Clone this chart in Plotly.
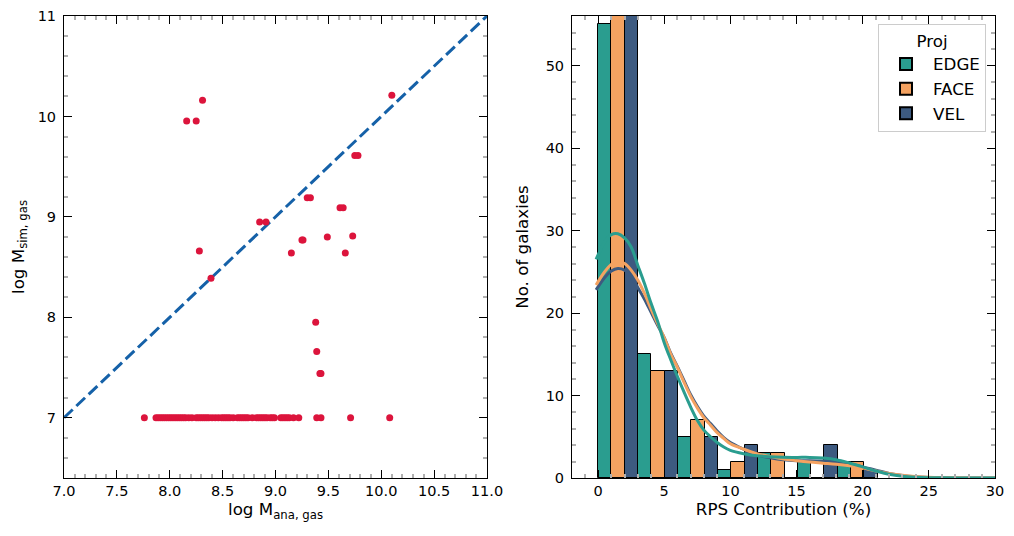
import plotly.graph_objects as go

# ---- left panel: analytic vs simulated gas mass ----
m_ana = [8.16, 8.25, 8.31, 10.10, 9.75, 9.78, 9.30, 9.33, 9.61, 9.64,
         8.85, 8.91, 9.49, 9.73, 9.25, 9.26, 9.15, 9.66, 8.28, 8.39,
         9.38, 9.39, 9.42, 9.43,
         7.76, 7.87, 7.89, 7.91, 7.93, 7.95, 7.97, 7.99, 8.01, 8.03,
         8.05, 8.07, 8.09, 8.11, 8.13, 8.15, 8.18, 8.21, 8.25, 8.27,
         8.29, 8.31, 8.33, 8.35, 8.37, 8.40, 8.43, 8.46, 8.49, 8.51,
         8.53, 8.55, 8.57, 8.60, 8.64, 8.66, 8.68, 8.70, 8.72, 8.74,
         8.78, 8.82, 8.84, 8.86, 8.88, 8.90, 8.92, 8.95, 8.97, 8.99,
         9.05, 9.07, 9.09, 9.11, 9.13, 9.17, 9.22, 9.39, 9.43, 9.71, 10.08]
m_sim = [9.955, 9.955, 10.16, 10.21, 9.61, 9.61, 9.19, 9.19, 9.09, 9.09,
         8.95, 8.95, 8.80, 8.81, 8.77, 8.77, 8.64, 8.64, 8.66, 8.39,
         7.95, 7.66, 7.44, 7.44] + [7.0] * 61
one_to_one = [7.0, 11.0]

# ---- right panel: RPS contribution histogram ----
bin_edges = [0, 3.02, 6.04, 9.06, 12.08, 15.10, 18.12, 21.14]
projections = ["EDGE", "FACE", "VEL"]
counts = {
    "EDGE": [55, 15, 5, 1, 3, 2, 2],
    "FACE": [56, 13, 7, 2, 3, 0, 2],
    "VEL":  [56, 13, 5, 4, 0, 4, 1],
}
colors = {"EDGE": "#2a9d8f", "FACE": "#f4a261", "VEL": "#3d5a80"}

kde_x = [-0.15, 0.5, 1.0, 1.5, 2.0, 2.5, 3.0, 3.5, 4.0, 4.5, 5.0, 5.5, 6.0,
         6.5, 7.0, 7.5, 8.0, 8.5, 9.0, 9.5, 10, 11, 12, 13, 14, 15, 16, 17,
         18, 19, 20, 21, 22, 23, 24, 25, 26, 28, 30]
kde_y = {
    "EDGE": [26.5, 28.6, 29.5, 29.6, 29.1, 28.0, 25.8, 23.6, 21.2, 19.0, 16.4,
             14.3, 12.3, 10.4, 8.6, 7.0, 5.8, 5.0, 4.3, 3.75, 3.35, 2.95, 2.7,
             2.58, 2.52, 2.5, 2.5, 2.42, 2.22, 1.82, 1.35, 0.85, 0.45, 0.22,
             0.1, 0.04, 0.02, 0.0, 0.0],
    "FACE": [23.4, 25.0, 25.9, 26.3, 26.0, 25.2, 24.0, 22.4, 20.5, 18.7, 17.0,
             15.0, 13.4, 11.6, 9.9, 8.5, 7.3, 6.4, 5.5, 4.8, 4.15, 3.5, 2.95,
             2.6, 2.3, 2.1, 1.93, 1.8, 1.67, 1.48, 1.2, 0.85, 0.55, 0.32,
             0.17, 0.08, 0.04, 0.01, 0.0],
    "VEL":  [22.8, 24.3, 25.1, 25.4, 25.2, 24.4, 23.1, 21.7, 20.1, 18.5, 17.0,
             15.1, 13.5, 11.8, 10.1, 8.7, 7.5, 6.6, 5.7, 4.9, 4.3, 3.5, 2.8,
             2.45, 2.2, 2.1, 2.1, 2.05, 1.9, 1.7, 1.35, 0.95, 0.55, 0.3,
             0.15, 0.07, 0.03, 0.01, 0.0],
}

fig = go.Figure()

fig.add_trace(go.Scatter(
    x=one_to_one, y=one_to_one, mode="lines", showlegend=False,
    line=dict(color="#1561a8", width=3, dash="12px,5px"),
    xaxis="x", yaxis="y"))
fig.add_trace(go.Scatter(
    x=m_ana, y=m_sim, mode="markers", showlegend=False,
    marker=dict(color="#dc143c", size=7),
    xaxis="x", yaxis="y"))

n = len(projections)
for k, p in enumerate(projections):
    xs, ws = [], []
    for i in range(len(bin_edges) - 1):
        w = (bin_edges[i + 1] - bin_edges[i]) / n
        xs.append(bin_edges[i] + (k + 0.5) * w)
        ws.append(w)
    fig.add_trace(go.Bar(
        x=xs, y=counts[p], width=ws, name=p,
        marker=dict(color=colors[p], line=dict(color="black", width=1)),
        xaxis="x2", yaxis="y2"))

for p in ["VEL", "FACE", "EDGE"]:
    fig.add_trace(go.Scatter(
        x=kde_x, y=kde_y[p], mode="lines", showlegend=False,
        line=dict(color=colors[p], width=3, shape="spline"),
        xaxis="x2", yaxis="y2"))

tick_font = dict(family="DejaVu Sans", size=14.5, color="black")
label_font = dict(family="DejaVu Sans", size=16.7, color="black")
common = dict(showline=True, linecolor="black", linewidth=1, mirror="allticks",
              ticks="inside", ticklen=8, tickwidth=1, tickcolor="black",
              showgrid=False, zeroline=False,
              automargin=False, tickfont=tick_font)

def minor(d):
    return dict(dtick=d, ticks="inside", ticklen=4, tickwidth=1.5,
                tickcolor="#b0b0b0", showgrid=False)

# the page body adds an 8px offset, so positions are shifted back by 8px
fig.update_layout(
    width=1014, height=536,
    margin=dict(l=0, r=0, t=8, b=66),
    plot_bgcolor="white", paper_bgcolor="white",
    font=label_font, barmode="overlay", bargap=0,
    showlegend=True,
    xaxis=dict(domain=[56 / 1014, 479 / 1014], range=[7, 11], dtick=0.5,
               tickformat=".1f", minor=minor(0.1), ticklabelstandoff=0,
               title=dict(text="log M<sub>ana, gas</sub>", font=label_font, standoff=4),
               **common),
    yaxis=dict(range=[6.4, 11], tick0=7, dtick=1, minor=minor(0.2),
               ticklabelstandoff=4,
               title=dict(text="log M<sub>sim, gas</sub>", font=label_font, standoff=12),
               **common),
    xaxis2=dict(domain=[564 / 1014, 987 / 1014], range=[-1.97, 30], dtick=5,
                minor=minor(1), anchor="y2", ticklabelstandoff=0,
                title=dict(text="RPS Contribution (%)", font=label_font, standoff=4),
                **common),
    yaxis2=dict(range=[0, 56], dtick=10, minor=minor(2), anchor="x2",
                ticklabelstandoff=4,
                title=dict(text="No. of galaxies", font=label_font, standoff=12),
                **common),
    legend=dict(x=978 / 1014, y=0.983, xanchor="right", yanchor="top",
                bgcolor="white", bordercolor="#cccccc", borderwidth=1,
                font=label_font, itemwidth=44, tracegroupgap=0,
                title=dict(text="Proj", side="top center", font=label_font),
                itemsizing="constant"),
)

fig.write_html("out.html")
